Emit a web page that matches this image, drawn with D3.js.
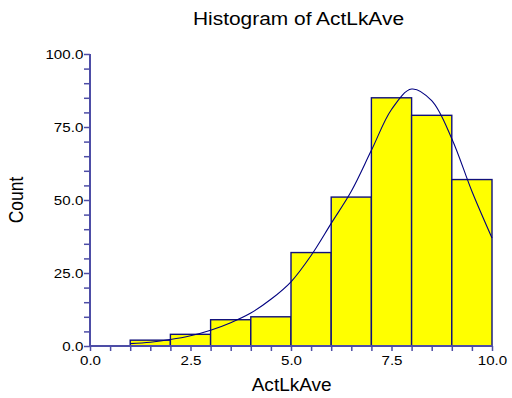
<!DOCTYPE html>
<html>
<head>
<meta charset="utf-8">
<script src="https://cdn.jsdelivr.net/npm/d3@7"></script>
<style>
  body { margin: 0; background: #fff; }
  text { font-family: "Liberation Sans", Arial, sans-serif; fill: #000; }
</style>
</head>
<body>
<div id="chart"></div>
<script>
// histogram bins (lower edge, upper edge) and counts
const binStart = [1, 2, 3, 4, 5, 6, 7, 8, 9];
const binEnd   = [2, 3, 4, 5, 6, 7, 8, 9, 10];
const counts   = [2, 4, 9, 10, 32, 51, 85, 79, 57];

// fitted density curve
const curveX = [1, 1.5, 2, 2.5, 3, 3.5, 4, 4.5, 5, 5.5, 6, 6.5, 7, 7.5, 8, 8.5, 9, 9.5, 10];
const curveY = [0.8, 1.3, 2.2, 3.5, 5.4, 8.0, 11.3, 16, 22, 31, 42, 53, 67, 81, 88, 84, 71, 53, 37];

const xTicks = [0, 2.5, 5, 7.5, 10];
const yTicks = [0, 25, 50, 75, 100];

const w = 512, h = 398;
const pLeft = 90, pRight = 492, pTop = 54, pBottom = 346;
const axisColor = "#4d4da6";
const navy = "#000080";
const stretch = 1.12; // text in the picture is a bit wider than normal

const svg = d3.select("#chart").append("svg").attr("width", w).attr("height", h);

const x = d3.scaleLinear().domain([0, 10]).range([pLeft, pRight]);
const y = d3.scaleLinear().domain([0, 100]).range([pBottom, pTop]);

// bars
svg.selectAll("rect.bar")
  .data(counts).enter()
  .append("rect")
  .attr("class", "bar")
  .attr("x", (d, i) => x(binStart[i]))
  .attr("y", d => y(d))
  .attr("width", (d, i) => x(binEnd[i]) - x(binStart[i]))
  .attr("height", d => y(0) - y(d))
  .attr("fill", "#ffff00")
  .attr("stroke", "#10107a")
  .attr("stroke-width", 1.4);

// density curve
const pts = curveX.map((v, i) => [v, curveY[i]]);
svg.append("path")
  .datum(pts)
  .attr("fill", "none")
  .attr("stroke", navy)
  .attr("stroke-width", 1.1)
  .attr("d", d3.line().x(d => x(d[0])).y(d => y(d[1])).curve(d3.curveCatmullRom));

// y axis
const yAxis = svg.append("g").attr("transform", `translate(${pLeft},0)`)
  .call(d3.axisLeft(y).tickValues(d3.range(0, 101, 5)).tickSize(6)
    .tickFormat(d => yTicks.includes(d) ? d3.format(".1f")(d) : ""));
yAxis.select(".domain").attr("stroke", axisColor).attr("stroke-width", 2)
  .attr("d", `M0,${pTop}V${pBottom}`);
yAxis.selectAll(".tick line").attr("stroke", axisColor).attr("stroke-width", 1.5);
yAxis.selectAll(".tick text").attr("font-size", 13.5).attr("x", -6).attr("dy", "0.36em")
  .attr("transform", `scale(${stretch},1)`)
  .attr("font-family", "Liberation Sans, Arial, sans-serif").attr("fill", "#000");

// x axis
const xAxis = svg.append("g").attr("transform", `translate(0,${pBottom})`)
  .call(d3.axisBottom(x).tickValues(d3.range(0, 10.01, 0.5)).tickSize(5)
    .tickFormat(d => xTicks.includes(d) ? d3.format(".1f")(d) : ""));
xAxis.select(".domain").attr("stroke", axisColor).attr("stroke-width", 2)
  .attr("d", `M${pLeft},0H${pRight}`);
xAxis.selectAll(".tick line").attr("stroke", axisColor).attr("stroke-width", 1.5);
xAxis.selectAll(".tick text").attr("font-size", 13.5).attr("y", 19.5).attr("dy", 0)
  .attr("transform", `scale(${stretch},1)`)
  .attr("font-family", "Liberation Sans, Arial, sans-serif").attr("fill", "#000");

// titles
svg.append("text").attr("x", 298.5).attr("y", 25).attr("text-anchor", "middle")
  .attr("font-size", 17.5).attr("textLength", 211).attr("lengthAdjust", "spacingAndGlyphs")
  .text("Histogram of ActLkAve");
svg.append("text").attr("x", 291.7).attr("y", 391).attr("text-anchor", "middle")
  .attr("font-size", 17.5).attr("textLength", 80).attr("lengthAdjust", "spacingAndGlyphs")
  .text("ActLkAve");
svg.append("text").attr("transform", `translate(23.3,200) scale(1.15,1) rotate(-90)`)
  .attr("text-anchor", "middle").attr("font-size", 17.5).text("Count");
</script>
</body>
</html>
